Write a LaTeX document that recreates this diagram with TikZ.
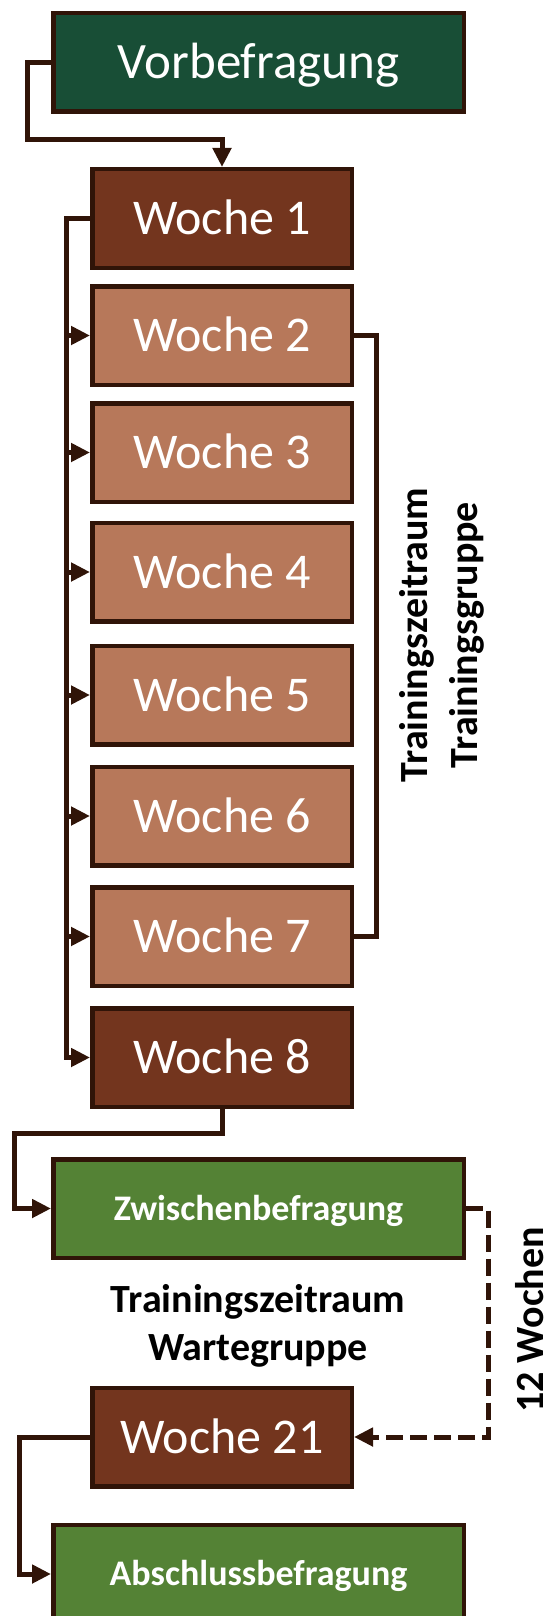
\documentclass[tikz,border=0pt]{standalone}
\usepackage{fontspec}
\setmainfont{Carlito}
\usetikzlibrary{arrows.meta,calc}

\definecolor{edgebrown}{HTML}{301408}
\definecolor{pregreen}{HTML}{184E36}
\definecolor{darkweek}{HTML}{73351E}
\definecolor{lightweek}{HTML}{B7785A}
\definecolor{surveygreen}{HTML}{548235}

\tikzset{
  stage/.style={draw=edgebrown, line width=4.5pt, text=white, inner sep=0pt,
    text depth=0pt, align=center},
  widebox/.style={stage, minimum width=410.5pt, minimum height=98.5pt},
  weekbox/.style={stage, minimum width=259.5pt, minimum height=98.5pt,
    text height=32pt, font=\fontsize{50}{60}\selectfont},
  keyweek/.style={weekbox, fill=darkweek},
  plainweek/.style={weekbox, fill=lightweek},
  survey/.style={widebox, fill=surveygreen, text height=23pt,
    font=\fontsize{36}{44}\selectfont\bfseries},
  link/.style={draw=edgebrown, line width=5pt,
    -{Triangle[length=19pt,width=18pt]}},
  bracket/.style={draw=edgebrown, line width=5pt},
  waitlink/.style={link, dash pattern=on 17pt off 7pt},
  note/.style={text=black, inner sep=0pt, align=center}
}

\begin{document}
\begin{tikzpicture}[x=1pt, y=-1pt]
  \useasboundingbox (0,0) rectangle (552,1616);
  \clip (0,0) rectangle (552,1616);

  % survey before the training
  \node[widebox, fill=pregreen, text height=33pt, font=\fontsize{51}{61}\selectfont]
    (pre) at (258.5,62.5) {Vorbefragung};

  % the eight training weeks
  \node[keyweek]   (w1) at (222,218.5)  {Woche 1};
  \node[plainweek] (w2) at (222,335.5)  {Woche 2};
  \node[plainweek] (w3) at (222,452.5)  {Woche 3};
  \node[plainweek] (w4) at (222,572)    {Woche 4};
  \node[plainweek] (w5) at (222,695)    {Woche 5};
  \node[plainweek] (w6) at (222,816)    {Woche 6};
  \node[plainweek] (w7) at (222,936.5)  {Woche 7};
  \node[keyweek]   (w8) at (222,1057.5) {Woche 8};

  % interim and final surveys, waiting-group week
  \node[survey]  (mid) at (258.5,1208.5) {Zwischenbefragung};
  \node[keyweek] (w21) at (222,1437)     {Woche 21};
  \node[survey]  (fin) at (258.5,1574)   {Abschlussbefragung};

  % labels
  \node[note, rotate=90, font=\fontsize{40}{50}\selectfont\bfseries]
    (trainlbl) at (442,635) {Trainingszeitraum\\Trainingsgruppe};
  \node[note, font=\fontsize{40}{48}\selectfont\bfseries]
    (waitlbl) at (258,1326) {Trainingszeitraum\\Wartegruppe};
  \node[note, rotate=90, text height=27pt, text depth=0pt,
    font=\fontsize{40}{48}\selectfont\bfseries]
    (gaplbl) at (530,1320) {12 Wochen};

  % connectors
  \draw[link] (pre.west) -- ++(-24,0) |- ($(w1.north)+(0,-27)$) -- (w1.north);

  \draw[link] (w1.west) -- ++(-24,0) coordinate (spine) |- (w8.west);
  \foreach \k in {2,...,7}
    \draw[link] (spine |- w\k.west) -- (w\k.west);

  \draw[bracket] (w2.east) -- ++(22,0) |- (w7.east);

  \draw[link] (w8.south) -- ++(0,24) -- ++(-208,0) |- (mid.west);
  \draw[waitlink] (mid.east) -- ++(22,0) |- (w21.east);
  \draw[link] (w21.west) -- ++(-71,0) |- (fin.west);
\end{tikzpicture}
\end{document}
